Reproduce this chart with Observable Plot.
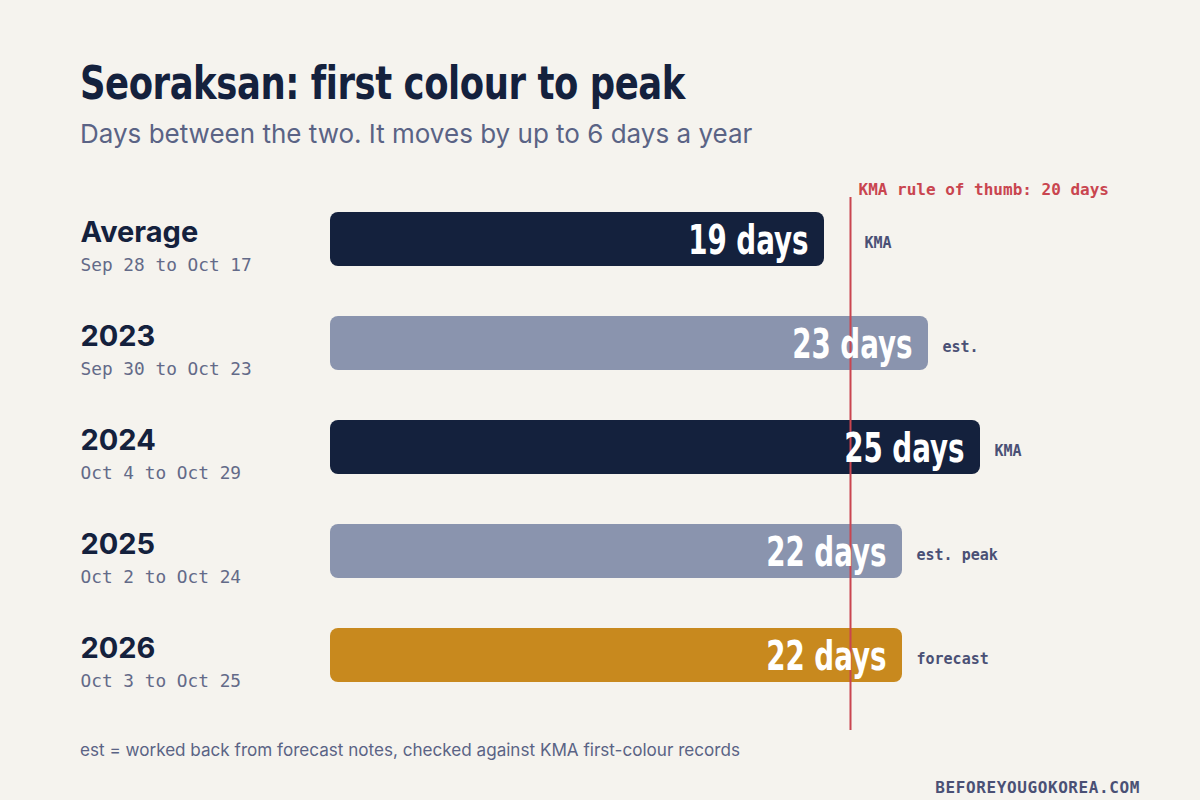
<!DOCTYPE html>
<html>
<head>
<meta charset="utf-8">
<script src="https://cdn.jsdelivr.net/npm/d3@7"></script>
<script src="https://cdn.jsdelivr.net/npm/@observablehq/plot@0.6"></script>
<style>
  html, body { margin: 0; padding: 0; background: #f5f3ee; }
  body { width: 1200px; height: 800px; position: relative; overflow: hidden; font-family: Inter, "Noto Sans", sans-serif; }
  .abs { position: absolute; white-space: nowrap; line-height: 1; }
  #title { left: 80px; top: 60px; font-family: "Liberation Sans Narrow", "DejaVu Sans Condensed", Roboto, sans-serif; font-stretch: condensed; font-weight: 700; font-size: 46px; color: #14213d; letter-spacing: -0.5px; transform: scaleX(0.856); transform-origin: left center; }
  #subtitle { left: 80px; top: 121px; font-size: 26px; color: #5a6385; }
  #note { left: 80px; top: 741px; font-size: 17.1px; color: #5a6385; }
  #brand { right: 60px; top: 780px; font-family: "DejaVu Sans Mono", monospace; font-weight: 700; font-size: 16px; color: #4a5075; letter-spacing: 0.6px; }
  #chart { position: absolute; left: 0; top: 170px; }
</style>
</head>
<body>
<div id="title" class="abs">Seoraksan: first colour to peak</div>
<div id="subtitle" class="abs">Days between the two. It moves by up to 6 days a year</div>
<div id="chart"></div>
<div id="note" class="abs">est = worked back from forecast notes, checked against KMA first-colour records</div>
<div id="brand" class="abs">BEFOREYOUGOKOREA.COM</div>
<script>
const categories = ["Average", "2023", "2024", "2025", "2026"];
const dateRanges = ["Sep 28 to Oct 17", "Sep 30 to Oct 23", "Oct 4 to Oct 29", "Oct 2 to Oct 24", "Oct 3 to Oct 25"];
const days = [19, 23, 25, 22, 22];
const sources = ["KMA", "est.", "KMA", "est. peak", "forecast"];
const kinds = ["measured", "estimated", "measured", "estimated", "forecast"];
const ruleOfThumb = 20;
const ruleLabel = "KMA rule of thumb: 20 days";

const rows = categories.map((c, i) => ({
  category: c, range: dateRanges[i], days: days[i], source: sources[i], kind: kinds[i]
}));

const mono = "'DejaVu Sans Mono', monospace";
const condensed = "'Liberation Sans Narrow', 'DejaVu Sans Condensed', Roboto, sans-serif";

const chart = Plot.plot({
  width: 1200,
  height: 570,
  marginLeft: 330,
  marginRight: 220,
  marginTop: 27,
  marginBottom: 10,
  style: { background: "transparent", overflow: "visible" },
  x: { domain: [0, 25], axis: null },
  y: { domain: categories, range: [17, 537], paddingInner: 0.48, paddingOuter: 0.24, axis: null },
  color: { domain: ["measured", "estimated", "forecast"], range: ["#14213d", "#8a94ae", "#c8891e"] },
  marks: [
    Plot.barX(rows, { x: "days", y: "category", fill: "kind", rx: 8 }),
    Plot.ruleX([ruleOfThumb], { stroke: "#c9454f", strokeWidth: 2 }),
    Plot.text([ruleLabel], { x: ruleOfThumb, frameAnchor: "top", text: d => d, textAnchor: "start", lineAnchor: "bottom", dx: 8, dy: -3, fill: "#c9454f", fontFamily: mono, fontWeight: 700, fontSize: 16 }),
    Plot.text(rows, { x: "days", y: "category", text: d => `${d.days} days`, textAnchor: "end", lineAnchor: "bottom", dx: -16, dy: 14, fill: "#ffffff", fontFamily: condensed, fontWeight: 700, fontSize: 40, style: "font-stretch: condensed; letter-spacing: -1px" }),
    Plot.text(rows, { x: d => Math.max(d.days, ruleOfThumb), y: "category", text: "source", textAnchor: "start", lineAnchor: "bottom", dx: 14, dy: 8, fill: "#4a5075", fontFamily: mono, fontWeight: 700, fontSize: 15 }),
    Plot.text(rows, { y: "category", frameAnchor: "left", text: "category", textAnchor: "start", lineAnchor: "bottom", dx: -250, dy: 2, fill: "#14213d", fontFamily: "Inter, sans-serif", fontWeight: 700, fontSize: 29 }),
    Plot.text(rows, { y: "category", frameAnchor: "left", text: "range", textAnchor: "start", lineAnchor: "bottom", dx: -250, dy: 31, fill: "#636a88", fontFamily: mono, fontSize: 17.8 })
  ]
});
document.getElementById("chart").appendChild(chart);

// Narrow the big in-bar value labels (right-anchored) to mimic a condensed display face
d3.select(chart).selectAll("g[font-size='40'] text").each(function () {
  const t = this.getAttribute("transform") || "";
  const x = this.getAttribute("x") || 0;
  const y = this.getAttribute("y") || 0;
  this.removeAttribute("x");
  this.removeAttribute("y");
  this.setAttribute("transform", `${t} translate(${x},${y}) scale(0.77,1)`);
});
</script>
</body>
</html>
